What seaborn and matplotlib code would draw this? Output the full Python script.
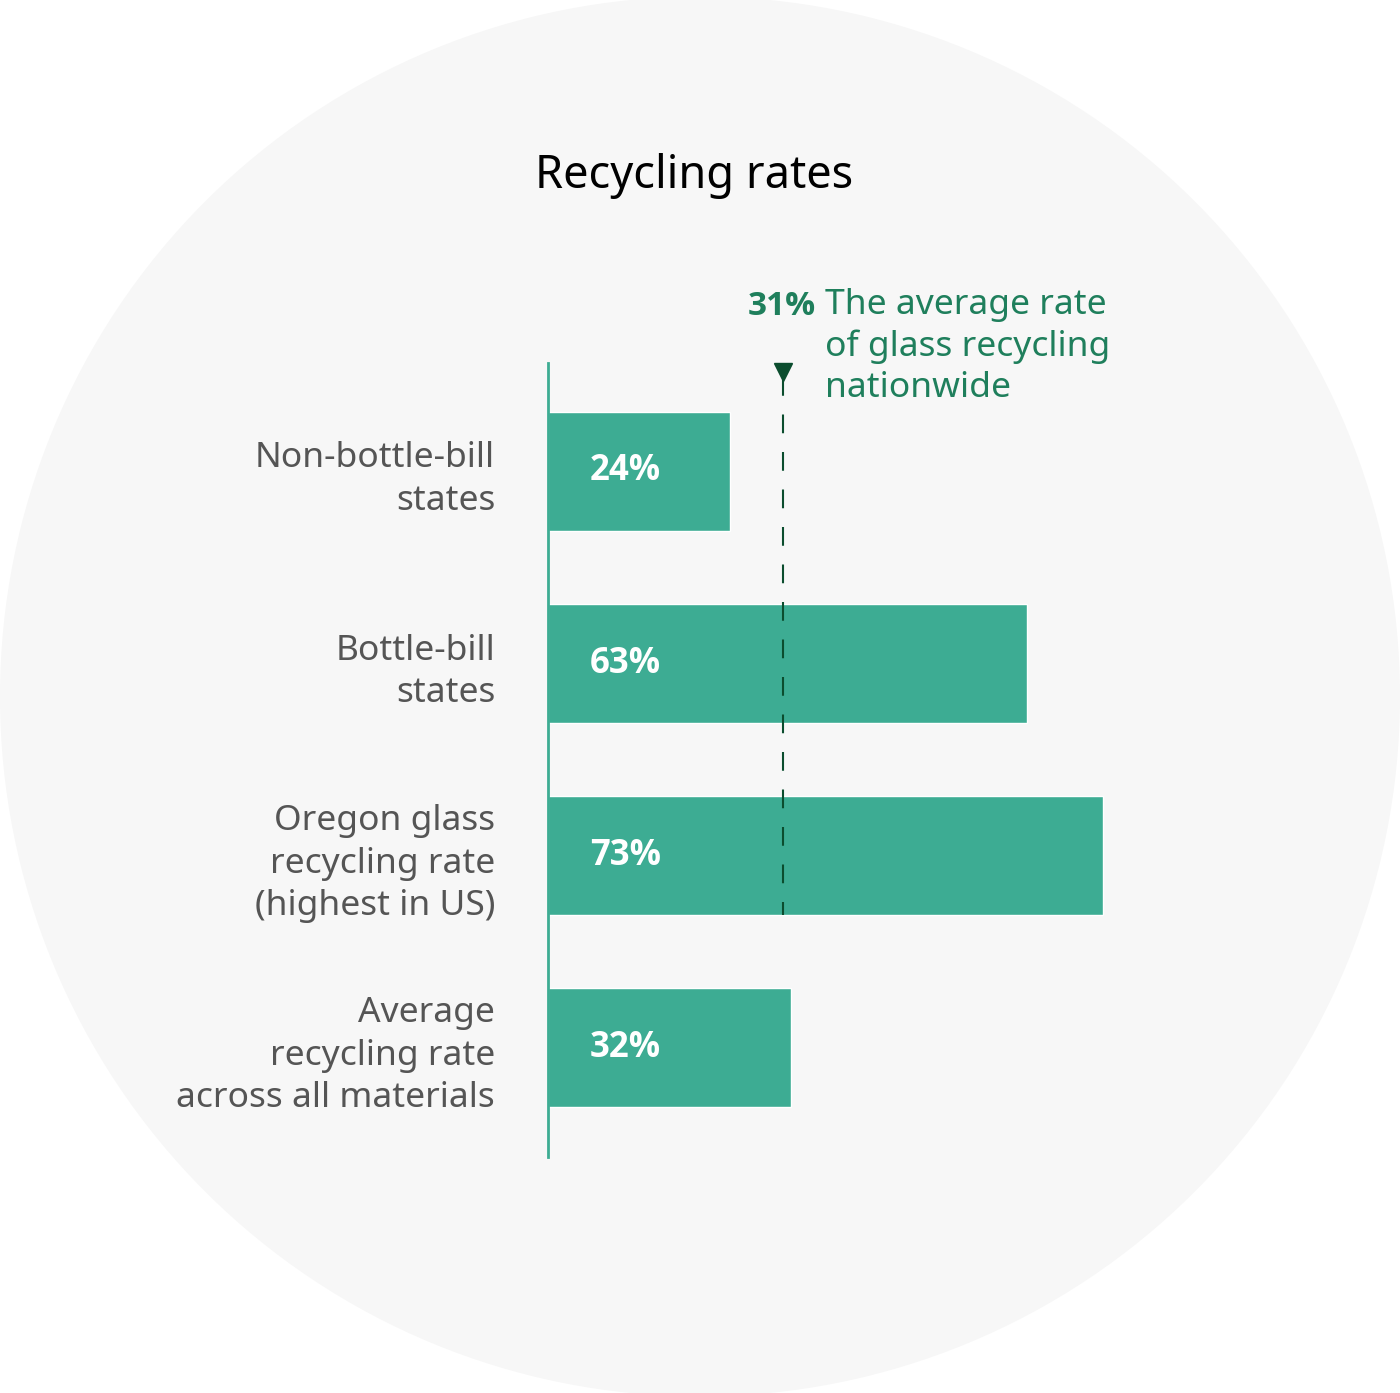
import matplotlib
matplotlib.use("Agg")
import matplotlib.pyplot as plt
import matplotlib.patches as mpatches
import seaborn as sns
import pandas as pd

categories = ["Non-bottle-bill\nstates", "Bottle-bill\nstates",
              "Oregon glass\nrecycling rate\n(highest in US)",
              "Average\nrecycling rate\nacross all materials"]
rates = [24, 63, 73, 32]
value_labels = ["24%", "63%", "73%", "32%"]
glass_avg = 31
glass_note = "The average rate\nof glass recycling\nnationwide"

bar_color = "#3dac93"
dark_green = "#0b4d2e"
note_green = "#1f7f5c"

sns.set_theme(style="white")
plt.rcParams["font.family"] = ["Noto Sans", "DejaVu Sans"]
bold_fam = ["Open Sans", "DejaVu Sans"]

df = pd.DataFrame({"category": categories, "rate": rates})

fig = plt.figure(figsize=(14, 13.93), dpi=100)
fig.patch.set_facecolor("white")

# light circle behind everything
bg = fig.add_axes([0, 0, 1, 1], zorder=0)
bg.set_axis_off()
bg.add_patch(mpatches.Ellipse((0.5, 0.5), 1.0, 1400 / 1393, transform=bg.transAxes,
                              facecolor="#f7f7f7", edgecolor="none"))

ax = fig.add_axes([548 / 1400, 236 / 1393, 752 / 1400, 794 / 1393], zorder=1)
ax.patch.set_alpha(0)
sns.barplot(data=df, x="rate", y="category", orient="h", color=bar_color,
            saturation=1, width=0.62, ax=ax)

ax.set_xlim(0, 99)
ax.set_ylim(3.57, -0.565)
ax.set_xlabel("")
ax.set_ylabel("")
ax.set_xticks([])
ax.tick_params(axis="y", length=0, pad=38, labelsize=25.5, labelcolor="#555555")
for lbl in ax.get_yticklabels():
    lbl.set_linespacing(1.33)
for side in ["top", "right", "bottom"]:
    ax.spines[side].set_visible(False)
ax.spines["left"].set_color(bar_color)
ax.spines["left"].set_linewidth(2)

for i, txt in enumerate(value_labels):
    ax.text(5.5, i, txt, color="white", fontsize=25, fontweight="bold",
            family=bold_fam, va="center", ha="left")

# national glass average
ax.plot([glass_avg, glass_avg], [-0.49, 2.31], color=dark_green, lw=1.5,
        dashes=(9, 9), zorder=3)
ax.plot([glass_avg], [-0.52], marker="v", markersize=13, color=dark_green,
        clip_on=False, zorder=4)
ax.text(glass_avg - 0.2, -0.86, f"{glass_avg}%", color=note_green, fontsize=24,
        fontweight="bold", family=bold_fam, ha="center", va="center")
ax.text(glass_avg + 5.5, -0.955, glass_note, color=note_green, fontsize=25.5,
        ha="left", va="top", linespacing=1.28)

fig.text(0.496, 1 - 176 / 1393, "Recycling rates", fontsize=32.5, color="black",
         ha="center", va="center")

fig.savefig("out.png", dpi=100)
